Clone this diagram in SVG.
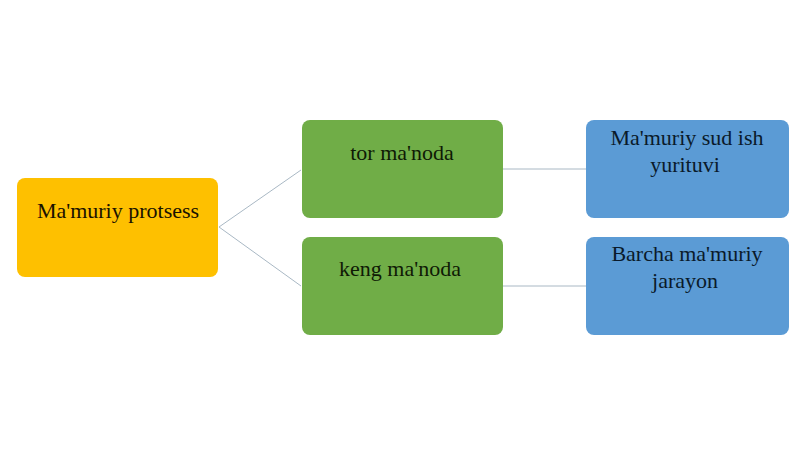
<svg xmlns="http://www.w3.org/2000/svg" width="800" height="449" viewBox="0 0 800 449">
<style>
.t{font-family:"Liberation Serif",serif;font-size:22px;text-anchor:middle}
.c{stroke:#a9b8c4;stroke-width:1;fill:none}
</style>
<rect width="800" height="449" fill="#fff"/>
<g id="connectors">
<path class="c" d="M219 227 L301 170"/>
<path class="c" d="M219 227 L301 286"/>
<path class="c" d="M503 169 L586 169"/>
<path class="c" d="M503 286 L586 286"/>
</g>
<g id="n0"><rect x="17" y="178" width="201" height="99" rx="8" fill="#fec000"/><text class="t" x="118" y="218" fill="#1a1200">Ma'muriy protsess</text></g>
<g id="n1"><rect x="302" y="120" width="201" height="98" rx="8" fill="#70ad47"/><text class="t" x="402" y="160" fill="#0f1a05">tor ma'noda</text></g>
<g id="n2"><rect x="302" y="237" width="201" height="98" rx="8" fill="#70ad47"/><text class="t" x="400" y="276" fill="#0f1a05">keng ma'noda</text></g>
<g id="n3"><rect x="586" y="120" width="203" height="98" rx="8" fill="#5b9bd5"/><text class="t" x="687" y="145" fill="#0a1a2a">Ma'muriy sud ish</text><text class="t" x="685" y="172" fill="#0a1a2a">yurituvi</text></g>
<g id="n4"><rect x="586" y="237" width="203" height="98" rx="8" fill="#5b9bd5"/><text class="t" x="687" y="261" fill="#0a1a2a">Barcha ma'muriy</text><text class="t" x="685" y="288" fill="#0a1a2a">jarayon</text></g>
</svg>
